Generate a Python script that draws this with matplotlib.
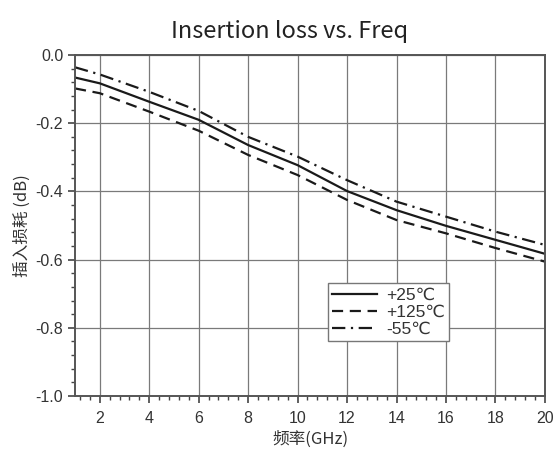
import matplotlib
matplotlib.use('Agg')
import matplotlib.pyplot as plt
from matplotlib.ticker import MultipleLocator, AutoMinorLocator

plt.rcParams['font.family'] = ['Liberation Sans', 'DejaVu Sans']

# values
freq = [1, 2, 4, 6, 8, 10, 12, 14, 16, 18, 20]
loss_25 = [-0.066, -0.083, -0.137, -0.190, -0.264, -0.323, -0.399, -0.455, -0.501, -0.542, -0.583]
loss_125 = [-0.098, -0.112, -0.166, -0.222, -0.293, -0.352, -0.425, -0.484, -0.523, -0.566, -0.606]
loss_m55 = [-0.036, -0.057, -0.108, -0.164, -0.240, -0.298, -0.367, -0.430, -0.474, -0.518, -0.557]
labels = ['+25\u2103', '+125\u2103', '-55\u2103']

x_ticks = [2, 4, 6, 8, 10, 12, 14, 16, 18, 20]
y_ticks = [0.0, -0.2, -0.4, -0.6, -0.8, -1.0]

cjk = ['Noto Sans CJK SC', 'DejaVu Sans']

fig = plt.figure(figsize=(5.6, 4.51), dpi=100)
ax = fig.add_axes([0.134, 0.122, 0.839, 0.756])

ax.plot(freq, loss_25, color='#1a1a1a', lw=1.6, ls='-', label=labels[0])
ax.plot(freq, loss_125, color='#1a1a1a', lw=1.6, ls=(0, (5, 3)), label=labels[1])
ax.plot(freq, loss_m55, color='#1a1a1a', lw=1.6, ls=(0, (6, 2.5, 1, 2.5)), label=labels[2])

ax.set_xlim(1, 20)
ax.set_ylim(-1.0, 0.0)
ax.set_xticks(x_ticks)
ax.set_yticks(y_ticks)
ax.set_yticklabels([f"{v:.1f}" for v in y_ticks])
ax.xaxis.set_minor_locator(MultipleLocator(0.4))
ax.yaxis.set_minor_locator(AutoMinorLocator(5))
ax.grid(True, which='major', color='#7a7a7a', lw=0.9)
ax.set_axisbelow(True)

for s in ax.spines.values():
    s.set_color('#555555')
    s.set_linewidth(1.4)

ax.tick_params(which='major', direction='out', length=5, width=1.2, color='#444444',
               labelsize=11.5, labelcolor='#333333', top=False, right=False)
ax.tick_params(axis='x', which='major', pad=6)
ax.tick_params(which='minor', direction='out', length=3, width=1.0, color='#444444')

ax.set_xlabel('频率(GHz)', family=cjk, fontsize=12, color='#333333', labelpad=3)
ax.set_ylabel('插入损耗 (dB)', family=cjk, fontsize=12, color='#333333', labelpad=3)
fig.suptitle('Insertion loss vs. Freq', family=cjk, fontsize=17, x=0.517, y=0.955,
             color='#222222', fontweight='light')

leg = ax.legend(loc='upper left', bbox_to_anchor=(0.538, 0.33), fontsize=12.5,
                handlelength=2.6, handletextpad=0.5, borderpad=0.25, labelspacing=0.1,
                fancybox=False, framealpha=1, edgecolor='#777777', borderaxespad=0)
leg.get_frame().set_linewidth(1.0)
for t in leg.get_texts():
    t.set_color('#333333')

fig.savefig('out.png', dpi=100)
